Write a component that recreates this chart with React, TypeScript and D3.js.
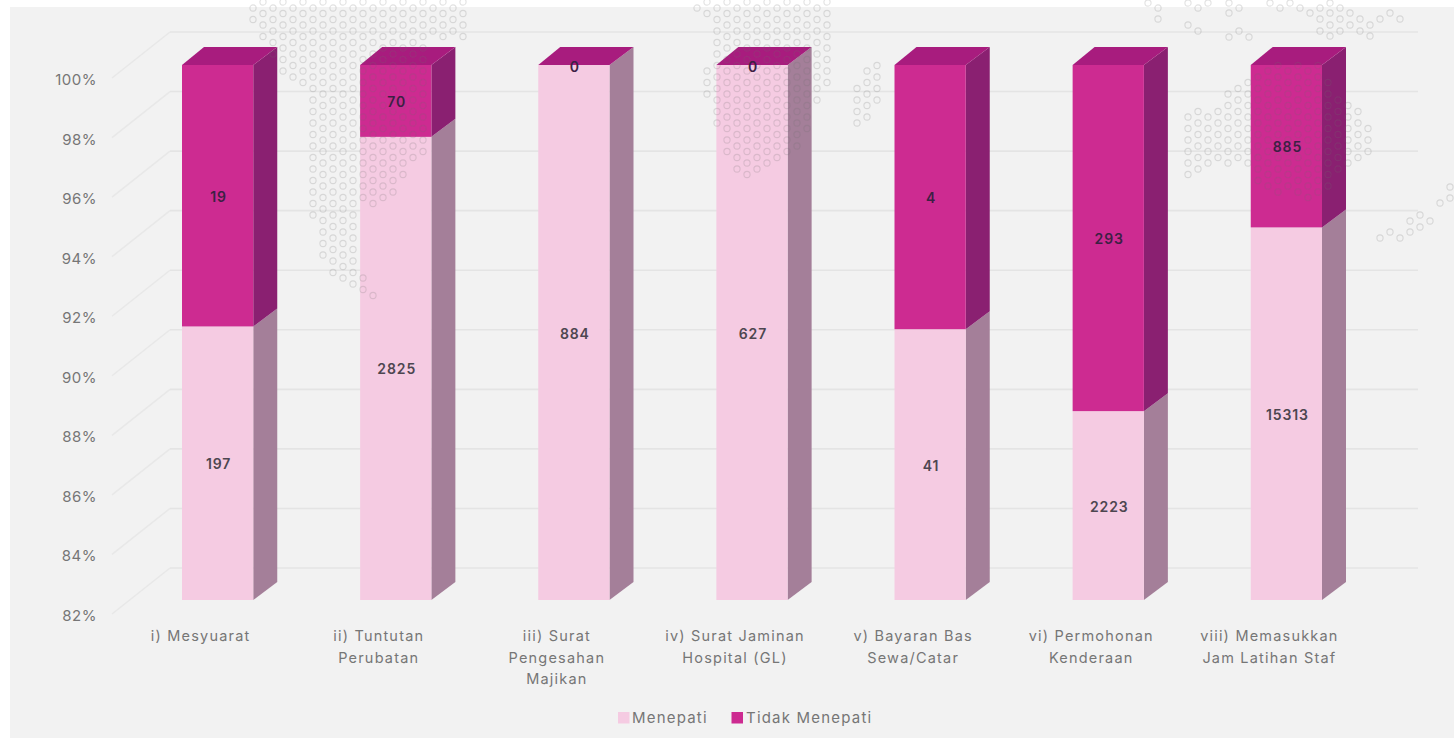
import React from "react";
import * as d3 from "d3";

const categories = ["i) Mesyuarat", "ii) Tuntutan Perubatan", "iii) Surat Pengesahan Majikan", "iv) Surat Jaminan Hospital (GL)", "v) Bayaran Bas Sewa/Catar", "vi) Permohonan Kenderaan", "vii) Memasukkan Jam Latihan Staf"];
const categoryLines = [["i) Mesyuarat"], ["ii) Tuntutan", "Perubatan"], ["iii) Surat", "Pengesahan", "Majikan"], ["iv) Surat Jaminan", "Hospital (GL)"], ["v) Bayaran Bas", "Sewa/Catar"], ["vi) Permohonan", "Kenderaan"], ["viii) Memasukkan", "Jam Latihan Staf"]];
const menepati = [197, 2825, 884, 627, 41, 2223, 15313];
const tidakMenepati = [19, 70, 0, 0, 4, 293, 885];
const yTicks = [82, 84, 86, 88, 90, 92, 94, 96, 98, 100];
const seriesNames = ["Menepati", "Tidak Menepati"];

const FONT = "Inter, Lato, sans-serif";
const W = 1454, H = 739;
const depthX = 24, depthY = 18;

const colors = {
  Menepati: { front: "#f5cbe2", side: "#a47f99" },
  "Tidak Menepati": { front: "#cd2b91", side: "#8a2071" },
};
const topFace = "#a81c7e";

const x = d3.scaleBand<string>().domain(categories).range([182, 1322]).paddingInner(0.6).paddingOuter(0);
const y = d3.scaleLinear().domain([82, 100]).range([600, 65]);
const wallY = d3.scaleLinear().domain([82, 100]).range([568, 32]);

const rows = categories.map((c, i) => ({ category: c, Menepati: menepati[i], "Tidak Menepati": tidakMenepati[i] }));
const stacked = d3.stack<any>().keys(seriesNames).offset(d3.stackOffsetExpand)(rows);

// decorative dotted world-map fragments
const dotPolygons: { dx: number; pts: [number, number][] }[] = [
  { dx: 0, pts: [[250, 0], [470, 0], [470, 38], [430, 42], [428, 160], [405, 172], [390, 203], [358, 206], [358, 272], [377, 292], [374, 300], [358, 292], [340, 282], [320, 258], [310, 206], [310, 92], [300, 84], [280, 78], [262, 42], [250, 24]] },
  { dx: 4, pts: [[693, 0], [832, 0], [832, 86], [820, 92], [810, 120], [800, 150], [750, 178], [733, 172], [722, 140], [712, 125], [712, 97], [702, 97], [702, 68], [712, 65], [712, 20], [693, 14]] },
  { dx: 4, pts: [[853, 84], [853, 127], [872, 120], [881, 92], [881, 62], [872, 62]] },
  { dx: 5, pts: [[1184, 113], [1222, 106], [1224, 88], [1242, 83], [1260, 65], [1320, 65], [1345, 100], [1363, 108], [1375, 142], [1362, 165], [1345, 168], [1320, 200], [1262, 190], [1250, 165], [1215, 165], [1192, 180], [1184, 180]] },
];
const sparseDots: [number, number][] = [
  [1148, 3], [1158, 8], [1158, 19], [1188, 3], [1198, 8], [1208, 3], [1229, 3], [1239, 8], [1229, 13], [1188, 25], [1198, 31], [1229, 37], [1239, 31], [1249, 37],
  [1270, 3], [1280, 8], [1290, 3], [1300, 8], [1310, 13], [1320, 8], [1330, 3], [1320, 19], [1320, 31], [1330, 13], [1330, 25], [1330, 36], [1340, 8], [1340, 19], [1340, 31], [1350, 13], [1350, 25], [1360, 19], [1360, 31], [1370, 25], [1370, 36], [1380, 19], [1390, 13], [1400, 19],
  [1380, 238], [1390, 232], [1400, 238], [1410, 232], [1410, 221], [1420, 227], [1420, 215], [1430, 221], [1440, 203], [1450, 198], [1450, 187],
];
const gridDots = dotPolygons.flatMap(({ dx, pts }) => {
  const out: [number, number][] = [];
  for (const k of d3.range(0, 115)) {
    const px = 253 + 10 * k + dx;
    const base = k % 2 === 0 ? 8 : 2;
    for (const n of d3.range(0, 30)) {
      const py = base + 11.5 * n;
      if (d3.polygonContains(pts, [px, py])) out.push([px, py]);
    }
  }
  return out;
});
const allDots = [...gridDots, ...sparseDots];

const line = d3.line();

export default function App() {
  const labelColor = "#767676";
  return (
    <svg width={W} height={H} viewBox={`0 0 ${W} ${H}`} style={{ position: "absolute", left: 0, top: 0, display: "block", background: "#fff" }}>
      <rect x={10} y={7} width={W - 10} height={731} fill="#f2f2f2" />

      {yTicks.map((t) => (
        <g key={t}>
          <path d={line([[112, wallY(t) + 46], [170, wallY(t)]])!} fill="none" stroke="#e8e8e8" strokeWidth={1.5} />
          <line x1={170} x2={1418} y1={wallY(t)} y2={wallY(t)} stroke="#e4e4e4" strokeWidth={1.6} />
          <text x={97} y={wallY(t) + 53} textAnchor="end" fontFamily={FONT} fontSize={15} fontWeight={400} fill={labelColor} letterSpacing={0.5}>{t}%</text>
        </g>
      ))}

      {stacked.map((s) => {
        const c = colors[s.key as keyof typeof colors];
        return (
          <g key={s.key}>
            {s.map((d, i) => {
              const x0 = x(categories[i])!;
              const x1 = x0 + x.bandwidth();
              const y0 = y(Math.max(100 * d[0], 82));
              const y1 = y(100 * d[1]);
              if (y0 - y1 < 0.01) return null;
              return (
                <g key={i}>
                  <path d={line([[x1, y1], [x1 + depthX, y1 - depthY], [x1 + depthX, y0 - depthY], [x1, y0]])! + "Z"} fill={c.side} />
                  <rect x={x0} y={y1} width={x.bandwidth()} height={y0 - y1} fill={c.front} />
                </g>
              );
            })}
          </g>
        );
      })}

      {categories.map((c) => {
        const x0 = x(c)!;
        const x1 = x0 + x.bandwidth();
        const t = y(100);
        return <path key={c} d={line([[x0, t], [x0 + depthX - 2, t - depthY], [x1 + depthX, t - depthY], [x1, t]])! + "Z"} fill={topFace} />;
      })}

      {allDots.map(([px, py], i) => (
        <circle key={i} cx={px} cy={py} r={3.1} fill="none" stroke="#6e6e6e" strokeOpacity={0.2} strokeWidth={1.1} />
      ))}

      {stacked.map((s) =>
        s.map((d, i) => {
          const mid = (y(Math.max(100 * d[0], 82)) + y(100 * d[1])) / 2;
          const v = d[1] - d[0] === 0 ? y(100) + 2 : mid + 1;
          return (
            <text key={s.key + i} x={x(categories[i])! + x.bandwidth() / 2 + 1} y={v} dy="0.36em" textAnchor="middle" fontFamily={FONT} fontSize={14} fontWeight={600} letterSpacing={0.9} fill={s.key === "Menepati" ? "#4d4650" : "#3c2044"}>
              {(d.data as any)[s.key]}
            </text>
          );
        })
      )}

      {categories.map((c, i) => (
        <text key={c} textAnchor="middle" fontFamily={FONT} fontSize={14.5} fontWeight={400} fill={labelColor} letterSpacing={1.2}>
          {categoryLines[i].map((l, j) => (
            <tspan key={j} x={x(c)! + x.bandwidth() / 2 - 17} y={641 + j * 21.7}>{l}</tspan>
          ))}
        </text>
      ))}

      <rect x={618} y={712} width={11.5} height={11.5} fill={colors.Menepati.front} />
      <text x={632} y={723} fontFamily={FONT} fontSize={15} fontWeight={400} fill={labelColor} letterSpacing={1.2}>{seriesNames[0]}</text>
      <rect x={731.5} y={712} width={11.5} height={11.5} fill={colors["Tidak Menepati"].front} />
      <text x={746} y={723} fontFamily={FONT} fontSize={15} fontWeight={400} fill={labelColor} letterSpacing={1.2}>{seriesNames[1]}</text>
    </svg>
  );
}
